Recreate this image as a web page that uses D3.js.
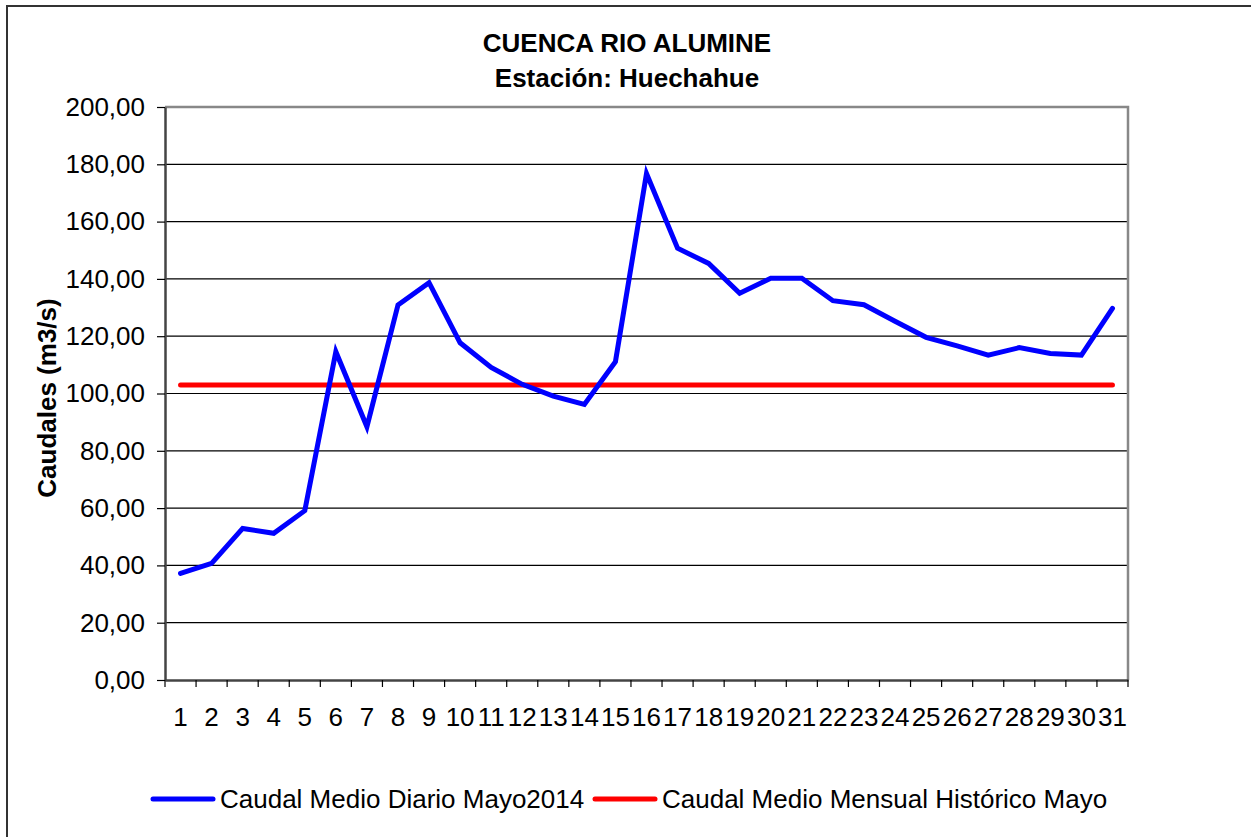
<!DOCTYPE html>
<html>
<head>
<meta charset="utf-8">
<script src="https://cdnjs.cloudflare.com/ajax/libs/d3/7.8.5/d3.min.js"></script>
<style>
  body { margin: 0; background: #fff; }
  text { font-family: Arial, "Liberation Sans", sans-serif; }
</style>
</head>
<body>
<div id="chart"></div>
<script>
        var width = 1251, height = 837;

        // data
        var days = d3.range(1, 32);
        var caudalDiario = [37.2, 40.7, 52.9, 51.2, 59.1, 114.6, 88.4, 130.9, 138.7, 117.7,
                            109.1, 103.2, 99.1, 96.2, 111.1, 176.8, 150.7, 145.4, 135.0, 140.2,
                            140.2, 132.4, 131.0, 125.2, 119.6, 116.6, 113.4, 116.0, 114.0, 113.4, 129.7];
        var caudalHistorico = [103.0, 103.0, 103.0, 103.0, 103.0, 103.0, 103.0, 103.0, 103.0, 103.0,
                               103.0, 103.0, 103.0, 103.0, 103.0, 103.0, 103.0, 103.0, 103.0, 103.0,
                               103.0, 103.0, 103.0, 103.0, 103.0, 103.0, 103.0, 103.0, 103.0, 103.0, 103.0];
        var yTicks = [0, 20, 40, 60, 80, 100, 120, 140, 160, 180, 200];
        var seriesNames = ["Caudal Medio Diario Mayo2014", "Caudal Medio Mensual Histórico Mayo"];
        var seriesColors = ["#0000ff", "#ff0000"];

        // plot box (note: "top" is taken by window.top)
        var plotLeft = 165, plotRight = 1128, plotTop = 107, plotBottom = 680;

        var x = d3.scaleBand().domain(days).range([plotLeft, plotRight]);
        var y = d3.scaleLinear().domain([0, 200]).range([plotBottom, plotTop]);

        var svg = d3.select("#chart")
                    .append("svg")
                    .attr("width", width)
                    .attr("height", height);

        // outer frame (runs off the right and bottom edge)
        svg.append("rect")
           .attr("x", 7).attr("y", 6)
           .attr("width", 1270).attr("height", 860)
           .attr("fill", "none")
           .attr("stroke", "#333")
           .attr("stroke-width", 2);

        // title
        svg.append("text")
           .attr("x", 627).attr("y", 52)
           .attr("text-anchor", "middle")
           .style("font-size", "26px").style("font-weight", "bold")
           .text("CUENCA RIO ALUMINE");
        svg.append("text")
           .attr("x", 627).attr("y", 87)
           .attr("text-anchor", "middle")
           .style("font-size", "26px").style("font-weight", "bold")
           .text("Estación: Huechahue");

        // gridlines
        svg.selectAll(".grid")
           .data(yTicks.filter(d => d > 0 && d < 200))
           .enter()
           .append("line")
           .attr("x1", plotLeft).attr("x2", plotRight)
           .attr("y1", d => y(d)).attr("y2", d => y(d))
           .attr("stroke", "#000")
           .attr("stroke-width", 1.2);

        // plot frame: top and right in light gray
        svg.append("path")
           .attr("d", "M" + plotLeft + "," + plotTop + "H" + plotRight + "V" + plotBottom)
           .attr("fill", "none")
           .attr("stroke", "#888")
           .attr("stroke-width", 2.5);

        // y axis
        var yAxis = d3.axisLeft(y)
                      .tickValues(yTicks)
                      .tickSizeInner(8)
                      .tickSizeOuter(0)
                      .tickPadding(12)
                      .tickFormat(d => d3.format(".2f")(d).replace(".", ","));
        var gy = svg.append("g")
                    .attr("transform", "translate(" + plotLeft + ",0)")
                    .call(yAxis);
        gy.select(".domain").attr("stroke", "#444").attr("stroke-width", 2.5);
        gy.selectAll(".tick line").attr("stroke", "#000").attr("stroke-width", 1.2);
        gy.selectAll("text")
          .style("font-size", "26px")
          .style("font-family", "Arial, 'Liberation Sans', sans-serif")
          .attr("fill", "#000");

        // x axis
        var xAxis = d3.axisBottom(x).tickSize(0).tickPadding(28);
        var gx = svg.append("g")
                    .attr("transform", "translate(0," + plotBottom + ")")
                    .call(xAxis);
        gx.select(".domain").attr("stroke", "#444").attr("stroke-width", 2.5);
        gx.selectAll("text")
          .style("font-size", "26px")
          .style("font-family", "Arial, 'Liberation Sans', sans-serif")
          .attr("fill", "#000");

        // category boundary ticks
        var bounds = days.map(d => x(d)).concat([plotRight]);
        svg.selectAll(".xtick")
           .data(bounds)
           .enter()
           .append("line")
           .attr("x1", d => d).attr("x2", d => d)
           .attr("y1", plotBottom).attr("y2", plotBottom + 7)
           .attr("stroke", "#000")
           .attr("stroke-width", 1.2);

        var line = d3.line()
                     .x((d, i) => x(days[i]) + x.bandwidth() / 2)
                     .y(d => y(d));

        svg.append("path")
           .datum(caudalHistorico)
           .attr("d", line)
           .attr("fill", "none")
           .attr("stroke", seriesColors[1])
           .attr("stroke-width", 5)
           .attr("stroke-linecap", "round");

        svg.append("path")
           .datum(caudalDiario)
           .attr("d", line)
           .attr("fill", "none")
           .attr("stroke", seriesColors[0])
           .attr("stroke-width", 5)
           .attr("stroke-linejoin", "miter")
           .attr("stroke-linecap", "round");

        // y axis title
        svg.append("text")
           .attr("transform", "translate(56,398) rotate(-90)")
           .attr("text-anchor", "middle")
           .style("font-size", "26px").style("font-weight", "bold")
           .text("Caudales (m3/s)");

        // legend
        var legendX = [150, 592];
        var legend = svg.selectAll(".legend")
                        .data(seriesNames)
                        .enter()
                        .append("g")
                        .attr("transform", (d, i) => "translate(" + legendX[i] + ",799)");
        legend.append("line")
              .attr("x1", 3).attr("x2", 63)
              .attr("y1", 0).attr("y2", 0)
              .attr("stroke", (d, i) => seriesColors[i])
              .attr("stroke-width", 5)
              .attr("stroke-linecap", "round");
        legend.append("text")
              .attr("x", 70).attr("y", 9)
              .style("font-size", "26px")
              .text(d => d);
</script>
</body>
</html>
